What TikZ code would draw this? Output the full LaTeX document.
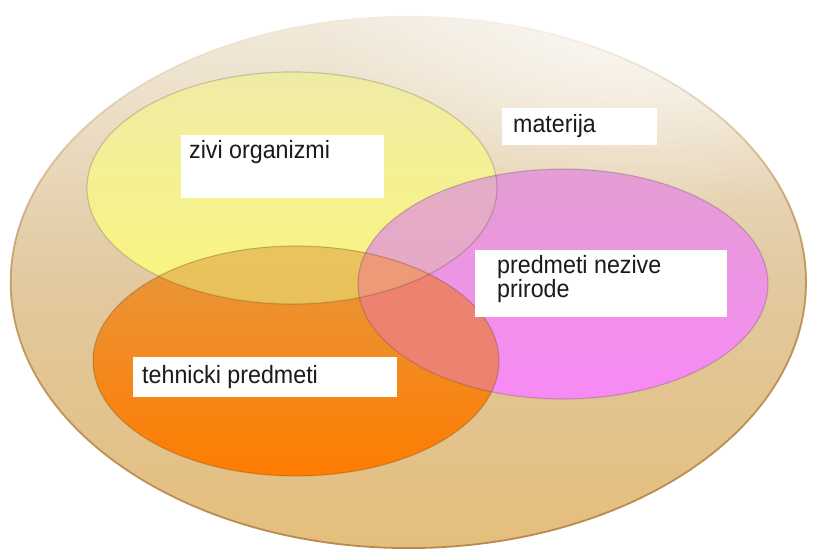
\documentclass[tikz,border=0pt]{standalone}
\usepackage{fontspec}
\setmainfont{Liberation Sans}
\newfontfamily\labfont[FakeStretch=0.93]{Liberation Sans}
\usetikzlibrary{fadings}
\tikzfading[name=glowfade, inner color=transparent!0, outer color=transparent!100]
\tikzfading[name=rimfade, top color=transparent!100, bottom color=transparent!0, middle color=transparent!20]
\definecolor{bigtop}{HTML}{F1EADC}
\definecolor{bigmid}{HTML}{E2C99F}
\definecolor{bigbot}{HTML}{E4BE7C}
\definecolor{bigedge}{HTML}{B88A4E}
\definecolor{ytop}{HTML}{EFEBA6}
\definecolor{ybot}{HTML}{FAF67C}
\definecolor{ptop}{HTML}{E39ED3}
\definecolor{pbot}{HTML}{F88AF6}
\definecolor{otop}{HTML}{E6983F}
\definecolor{obot}{HTML}{FF7C00}
\definecolor{yotop}{HTML}{E9C45E}
\definecolor{yobot}{HTML}{E8B448}
\definecolor{yptop}{HTML}{E4AEC6}
\definecolor{ypbot}{HTML}{E8A0C8}
\definecolor{opcol}{HTML}{EE8270}
\definecolor{allcol}{HTML}{EC9A78}
\definecolor{txtcol}{HTML}{1A1A1A}
\tikzset{
  ellB/.style={insert path={(409,282) ellipse [x radius=398, y radius=266]}},
  ellY/.style={insert path={(292,188) ellipse [x radius=205, y radius=116]}},
  ellP/.style={insert path={(563,284) ellipse [x radius=205, y radius=115]}},
  ellO/.style={insert path={(296,361) ellipse [x radius=203, y radius=115]}},
  labelbox/.style={fill=white, draw=none, inner sep=0pt, anchor=north west},
  labeltext/.style={anchor=base west, inner sep=0pt, text=txtcol, font=\labfont\fontsize{25}{24}\selectfont},
  rim/.style={draw=black, draw opacity=0.16, line width=1.2pt}
}
\begin{document}
\begin{tikzpicture}[x=1pt,y=-1pt]
\useasboundingbox (0,0) rectangle (814,556);
\fill[white] (0,0) rectangle (814,556);
% big ellipse (materija)
\shade[top color=bigtop, bottom color=bigbot, middle color=bigmid, ellB];
\begin{scope}
  \clip[ellB];
  \fill[white, opacity=0.75, path fading=glowfade] (640,20) ellipse [x radius=330, y radius=190];
\end{scope}
\draw[bigedge, line width=1.8pt, path fading=rimfade, ellB];
% single ellipses
\shade[top color=ytop, bottom color=ybot, ellY];
\shade[top color=otop, bottom color=obot, ellO];
\shade[top color=ptop, bottom color=pbot, ellP];
% intersections
\begin{scope}
  \clip[ellY];
  \shade[top color=yotop, bottom color=yobot, ellO];
  \shade[top color=yptop, bottom color=ypbot, ellP];
\end{scope}
\begin{scope}
  \clip[ellO];
  \fill[opcol, ellP];
\end{scope}
\begin{scope}
  \clip[ellO];
  \clip[ellY];
  \fill[allcol, ellP];
\end{scope}
% rims
\draw[rim, ellY];
\draw[rim, ellO];
\draw[rim, ellP];
% labels
\node[labelbox, minimum width=203, minimum height=63] (bzivi) at (181,135) {};
\node[labeltext] (tzivi) at (189,159) {zivi organizmi};
\node[labelbox, minimum width=155, minimum height=37] (bmat) at (502,108) {};
\node[labeltext] (tmat) at (513,133) {materija};
\node[labelbox, minimum width=252, minimum height=67] (bpred) at (475,250) {};
\node[labeltext] (tpreda) at (497,273) {predmeti nezive};
\node[labeltext] (tpredb) at (497,297) {prirode};
\node[labelbox, minimum width=264, minimum height=40] (bteh) at (133,357) {};
\node[labeltext] (tteh) at (142,383) {tehnicki predmeti};
\end{tikzpicture}
\end{document}
